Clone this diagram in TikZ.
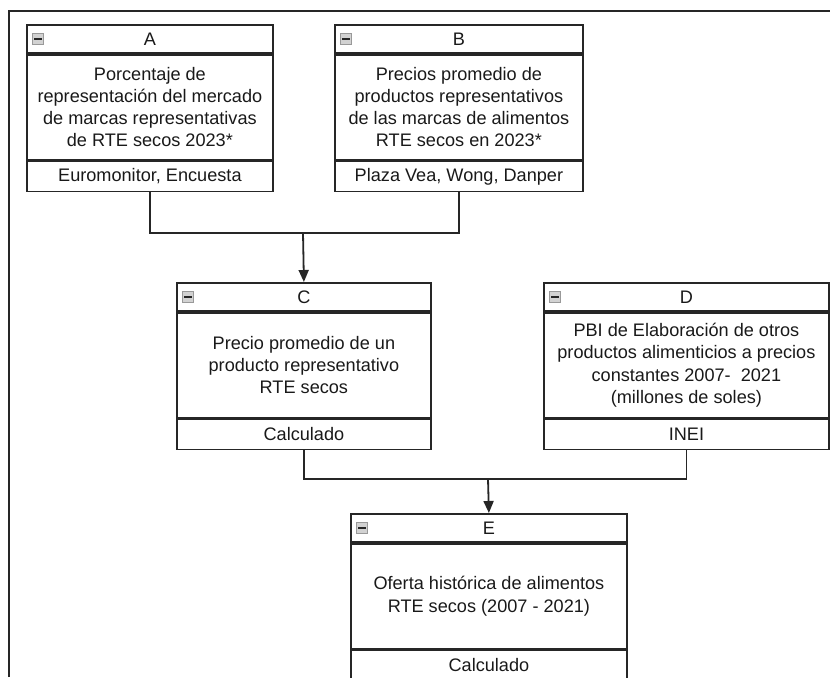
\documentclass[tikz,border=0pt]{standalone}
\usepackage{fontspec}
\setmainfont{Liberation Sans}
\usetikzlibrary{arrows.meta,calc}

% one drawing unit = one pixel of the layout grid
\newcommand\pxu{0.75pt}

\tikzset{
  part/.style={draw=black!85, line width=1.35pt, inner sep=0pt, align=center,
    font=\fontsize{13.6}{16.6}\selectfont, text=black!90},
  hdr/.style={part, minimum height=21pt},
  bodypart/.style={part, minimum height=78.75pt},
  ftr/.style={part, minimum height=22.5pt},
  icon/.style={rectangle, minimum size=8.2pt, inner sep=0pt, draw=gray!80,
    fill=gray!35, line width=0.6pt,
    path picture={\draw[gray!30!black, line width=1.3pt]
      ($(path picture bounding box.west)+(1.4pt,0)$) --
      ($(path picture bounding box.east)+(-1.4pt,0)$);}},
  link/.style={draw=black!85, line width=1.35pt},
  arrow/.style={link, -{Triangle[length=9pt,width=7.5pt]}},
  frame/.style={draw=black!85, line width=1.7pt},
}

% table box: name, left x, top y, width, title, body, footer
\newcommand\tablebox[7]{%
  \node[hdr, minimum width=#4*\pxu, anchor=north west] (#1h) at (#2,#3) {#5};
  \node[bodypart, minimum width=#4*\pxu, anchor=north] (#1b) at (#1h.south) {#6};
  \node[ftr, minimum width=#4*\pxu, anchor=north] (#1f) at (#1b.south) {#7};
  \node[icon] (#1i) at ($(#1h.west)+(12,0)$) {};
}

\begin{document}
\begin{tikzpicture}[x=0.75pt, y=-0.75pt]
\useasboundingbox (0,0) rectangle (830,677);

% surrounding frame
\draw[frame] (9,677) -- (9,11) -- (830,11);

\tablebox{A}{26}{24}{246}{A}
  {Porcentaje de\\representación del mercado\\de marcas representativas\\de RTE secos 2023*}
  {Euromonitor, Encuesta}
\tablebox{B}{334}{24}{248}{B}
  {Precios promedio de\\productos representativos\\de las marcas de alimentos\\RTE secos en 2023*}
  {Plaza Vea, Wong, Danper}
\tablebox{C}{176}{282}{254}{C}
  {Precio promedio de un\\producto representativo\\RTE secos}
  {Calculado}
\tablebox{D}{543}{282}{285}{D}
  {PBI de Elaboración de otros\\productos alimenticios a precios\\constantes 2007-\ \ 2021\\(millones de soles)}
  {INEI}
\tablebox{E}{350}{513}{276}{E}
  {Oferta histórica de alimentos\\RTE secos (2007 - 2021)}
  {Calculado}

% junction points of the connectors
\coordinate (jAB) at (303,233);
\coordinate (jCD) at (488,479);

\draw[link] (Af.south) |- (jAB) -| (Bf.south);
\draw[arrow] (jAB) -- (Ch.north);
\draw[link] (Cf.south) |- (jCD) -| (Df.south);
\draw[arrow] (jCD) -- (Eh.north);
\end{tikzpicture}
\end{document}
